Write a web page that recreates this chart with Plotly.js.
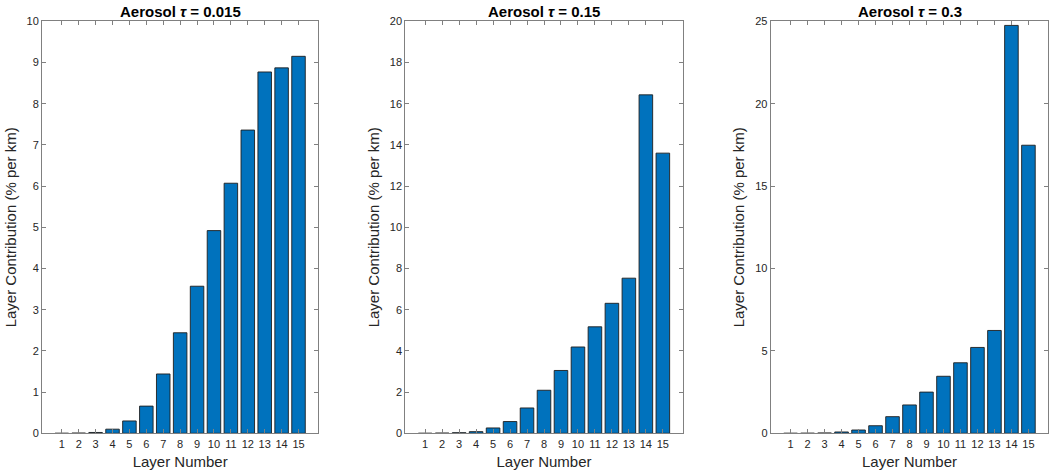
<!DOCTYPE html>
<html>
<head>
<meta charset="utf-8">
<script src="https://cdn.plot.ly/plotly-3.0.1.min.js"></script>
<style>html,body{margin:0;padding:0;background:#fff;}#chart{width:1052px;height:474px;}</style>
</head>
<body>
<div id="chart"></div>
<script>
// Layer numbers (x categories)
const layers = [1,2,3,4,5,6,7,8,9,10,11,12,13,14,15];
const tickLabels = ['1','2','3','4','5','6','7','8','9','10','11','12','13','14','15'];

// Layer contribution (% per km)
const tau0015 = [0, 0.005, 0.02, 0.1, 0.3, 0.66, 1.44, 2.44, 3.57, 4.92, 6.07, 7.36, 8.77, 8.87, 9.15];
const tau015  = [0, 0.01, 0.03, 0.08, 0.26, 0.57, 1.23, 2.09, 3.05, 4.19, 5.17, 6.31, 7.53, 16.43, 13.6];
const tau03   = [0, 0.005, 0.02, 0.08, 0.2, 0.46, 1.01, 1.72, 2.5, 3.46, 4.28, 5.21, 6.24, 24.75, 17.48];

const panelTitles = ['<b>Aerosol <i>τ</i> = 0.015</b>', '<b>Aerosol <i>τ</i> = 0.15</b>', '<b>Aerosol <i>τ</i> = 0.3</b>'];
const yMax = [10, 20, 25];
const yStep = [1, 2, 5];

const W = 1052, H = 474;
const xDomPx = [[42, 318.3], [405.3, 682.7], [770.7, 1048.3]];
const yDomPx = [21.3, 433.3];

const FONT = '"Liberation Sans", Arial, Helvetica, sans-serif';
const AX = '#808080';

const series = [tau0015, tau015, tau03];
const data = series.map((vals, i) => ({
  type: 'bar',
  x: layers,
  y: vals,
  width: 0.8,
  xaxis: i === 0 ? 'x' : 'x' + (i + 1),
  yaxis: i === 0 ? 'y' : 'y' + (i + 1),
  marker: {color: '#0072BD', line: {color: '#1e1e1e', width: 0.9}},
  showlegend: false,
  hoverinfo: 'x+y'
}));

const layout = {
  width: W, height: H,
  margin: {l: 0, r: 0, t: 0, b: 0},
  paper_bgcolor: '#fff', plot_bgcolor: '#fff',
  font: {family: FONT, size: 11, color: '#262626'},
  showlegend: false,
  annotations: []
};

for (let i = 0; i < 3; i++) {
  const sx = i === 0 ? '' : String(i + 1);
  layout['xaxis' + sx] = {
    domain: [xDomPx[i][0] / W, xDomPx[i][1] / W],
    anchor: 'y' + sx,
    range: [-0.17, 16.17],
    tickmode: 'array',
    tickvals: layers,
    ticktext: tickLabels,
    ticks: 'inside', ticklen: 4, tickwidth: 1, tickcolor: AX,
    showline: true, linecolor: AX, linewidth: 1, mirror: 'ticks',
    showgrid: false, zeroline: false,
    tickfont: {family: FONT, size: 11, color: '#262626'},
    title: {text: 'Layer Number', font: {family: FONT, size: 15, color: '#262626'}, standoff: 7},
    fixedrange: true
  };
  layout['yaxis' + sx] = {
    domain: [1 - yDomPx[1] / H, 1 - yDomPx[0] / H],
    anchor: 'x' + sx,
    range: [0, yMax[i]],
    dtick: yStep[i], tick0: 0,
    ticks: 'inside', ticklen: 4, tickwidth: 1, tickcolor: AX,
    showline: true, linecolor: AX, linewidth: 1, mirror: 'ticks',
    showgrid: false, zeroline: false,
    tickfont: {family: FONT, size: 11, color: '#262626'},
    title: {text: 'Layer Contribution (% per km)', font: {family: FONT, size: 15, color: '#262626'}, standoff: 6},
    fixedrange: true
  };
  layout.annotations.push({
    text: panelTitles[i],
    xref: 'paper', yref: 'paper',
    x: (xDomPx[i][0] + xDomPx[i][1]) / 2 / W,
    y: 1 - 11 / H,
    xanchor: 'center', yanchor: 'middle',
    showarrow: false,
    font: {family: FONT, size: 15, color: '#000'}
  });
}

Plotly.newPlot('chart', data, layout, {displayModeBar: false, staticPlot: true});
</script>
</body>
</html>
